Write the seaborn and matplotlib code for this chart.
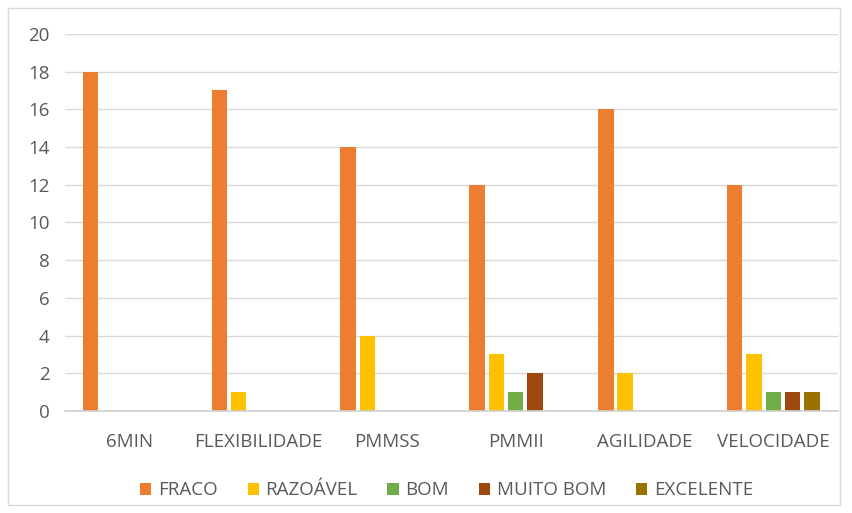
import pandas as pd
import matplotlib
matplotlib.use("Agg")
import matplotlib.pyplot as plt
import seaborn as sns
from matplotlib.patches import Rectangle

testes = ['6MIN', 'FLEXIBILIDADE', 'PMMSS', 'PMMII', 'AGILIDADE', 'VELOCIDADE']
niveis = ['FRACO', 'RAZOÁVEL', 'BOM', 'MUITO BOM', 'EXCELENTE']
fraco = [18, 17, 14, 12, 16, 12]
razoavel = [0, 1, 4, 3, 2, 3]
bom = [0, 0, 0, 1, 0, 1]
muito_bom = [0, 0, 0, 2, 0, 1]
excelente = [0, 0, 0, 0, 0, 1]
cores = ['#ED7D31', '#FFC000', '#70AD47', '#9E480E', '#997300']

valores = [fraco, razoavel, bom, muito_bom, excelente]
linhas = []
for nivel, serie in zip(niveis, valores):
    for teste, v in zip(testes, serie):
        linhas.append({'teste': teste, 'nivel': nivel, 'valor': v})
df = pd.DataFrame(linhas)

sns.set_style("white")
plt.rcParams['font.family'] = ['Open Sans', 'DejaVu Sans']

fig = plt.figure(figsize=(8.53, 5.13), dpi=100)
ax = fig.add_axes([0.076, 0.199, 0.906, 0.735])

sns.barplot(data=df, x='teste', y='valor', hue='nivel', order=testes,
            hue_order=niveis, palette=cores, saturation=1, width=0.75,
            gap=0.2, linewidth=0, ax=ax)

ax.set_ylim(0, 20)
ax.set_yticks(range(0, 21, 2))
ax.set_xlim(-0.5, 5.5)
ax.yaxis.grid(True, color='#d9d9d9', linewidth=1)
ax.set_axisbelow(True)
for s in ['top', 'right', 'left']:
    ax.spines[s].set_visible(False)
ax.spines['bottom'].set_color('#d0d0d0')
ax.spines['bottom'].set_linewidth(1.2)
ax.tick_params(axis='both', length=0, labelsize=13.5, colors='#595959')
ax.tick_params(axis='x', pad=16)
ax.tick_params(axis='y', pad=11)
ax.set_xlabel('')
ax.set_ylabel('')

ax.legend(loc='upper center', bbox_to_anchor=(0.494, -0.142), ncol=5,
          frameon=False, fontsize=13.5, handlelength=0.6, handleheight=0.6,
          columnspacing=1.6, handletextpad=0.35, labelcolor='#595959')

fig.patches.append(Rectangle((8 / 853, 8 / 513), 832 / 853, 497 / 513,
                             transform=fig.transFigure, fill=False,
                             edgecolor='#d9d9d9', linewidth=1))

fig.savefig('out.png', dpi=100)
